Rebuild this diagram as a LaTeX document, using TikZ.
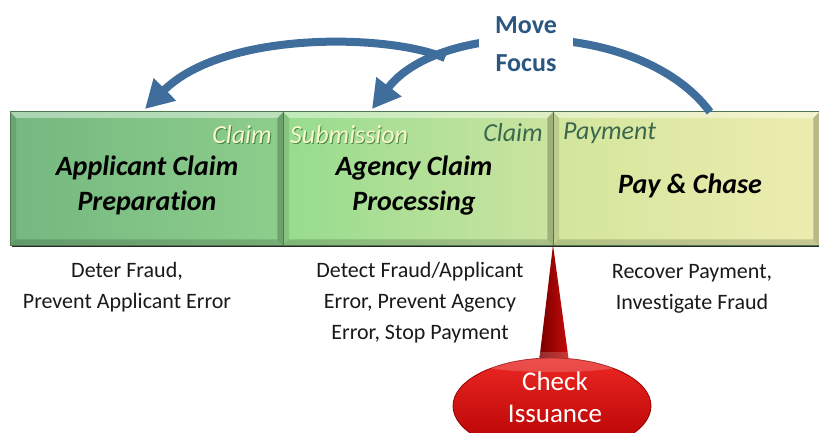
\documentclass[tikz,border=0pt]{standalone}
\usepackage{fontspec}
\setmainfont{Carlito}[RawFeature={-liga}]
\usetikzlibrary{arrows.meta,shapes.geometric,calc}

\definecolor{arcblue}{RGB}{64,110,156}
\definecolor{focusblue}{RGB}{42,86,130}
\definecolor{creamtxt}{RGB}{250,246,205}
\definecolor{labelgreen}{RGB}{58,104,78}
\definecolor{edgegreen}{RGB}{80,120,80}
\definecolor{bodytxt}{RGB}{25,25,25}

% bevelled rim drawn over a shaded stage box
\newcommand\bevelrim[1]{%
  \fill[white,opacity=0.40] (#1.north west) -- (#1.north east)
     -- ($(#1.north east)+(-6,6)$) -- ($(#1.north west)+(6,6)$) -- cycle;
  \fill[black,opacity=0.10] (#1.north west) -- ($(#1.north west)+(6,6)$)
     -- ($(#1.south west)+(6,-6)$) -- (#1.south west) -- cycle;
  \fill[black,opacity=0.16] (#1.south west) -- ($(#1.south west)+(6,-6)$)
     -- ($(#1.south east)+(-6,-6)$) -- (#1.south east) -- cycle;
  \fill[black,opacity=0.22] (#1.north east) -- ($(#1.north east)+(-6,6)$)
     -- ($(#1.south east)+(-6,-6)$) -- (#1.south east) -- cycle;
  \draw[edgegreen,line width=1pt] (#1.north west) rectangle (#1.south east);
}

\tikzset{
  stage/.style={inner sep=0pt, minimum height=133pt, anchor=north west},
  title/.style={font=\fontsize{28}{35}\selectfont\bfseries\itshape,
    text=black, align=center, inner sep=0pt},
  creamlabel/.style={font=\fontsize{26}{30}\selectfont\itshape,
    text=creamtxt, inner sep=0pt},
  creamshadow/.style={font=\fontsize{26}{30}\selectfont\itshape,
    text=black!70!green, opacity=0.55, inner sep=0pt},
  greenlabel/.style={font=\fontsize{26}{30}\selectfont\itshape,
    text=labelgreen, inner sep=0pt},
  note/.style={font=\fontsize{22}{31}\selectfont, text=bodytxt,
    align=center, inner sep=0pt},
  focusarc/.style={arcblue, line width=8pt,
    -{Triangle[length=28pt,width=30pt]}},
}

\begin{document}
\begin{tikzpicture}[x=1pt,y=-1pt]
\useasboundingbox (0,0) rectangle (819,433);

% drop shadow under the stage strip
\fill[black,opacity=0.85] (12,242) rectangle (819,247);

% the three stages
\node[stage, minimum width=273pt,
      left color={rgb,255:red,116;green,184;blue,128},
      right color={rgb,255:red,142;green,206;blue,140}] (prep) at (10,112) {};
\node[stage, minimum width=270pt,
      left color={rgb,255:red,150;green,220;blue,142},
      right color={rgb,255:red,204;green,228;blue,160}] (proc) at (283,112) {};
\node[stage, minimum width=266pt,
      left color={rgb,255:red,210;green,230;blue,156},
      right color={rgb,255:red,238;green,236;blue,176}] (pay) at (553,112) {};
\bevelrim{prep}
\bevelrim{proc}
\bevelrim{pay}

% stage titles
\node[title] (preptitle) at (147,185.5) {Applicant Claim\\Preparation};
\node[title] (proctitle) at (414,185.5) {Agency Claim\\Processing};
\node[title] (paytitle) at (690,186) {Pay \& Chase};

% boundary labels
\node[creamshadow, anchor=east] at (273,136) {Claim};
\node[creamlabel, anchor=east] (claimA) at (272,135) {Claim};
\node[creamshadow, anchor=west] at (291,136) {Submission};
\node[creamlabel, anchor=west] (submission) at (290,135) {Submission};
\node[greenlabel, anchor=east] (claimB) at (543,133) {Claim};
\node[greenlabel, anchor=west] (payment) at (563,133) {Payment};

% notes under the stages
\node[note] (prepnote) at (127,287.5) {Deter Fraud,\\Prevent Applicant Error};
\node[note] (procnote) at (420,302.5) {Detect Fraud/Applicant\\Error, Prevent Agency\\Error, Stop Payment};
\node[note] (paynote) at (692,288.5) {Recover Payment,\\Investigate Fraud};

% check issuance callout
\shade[left color={rgb,255:red,120;green,0;blue,0},
       right color={rgb,255:red,200;green,10;blue,10}]
  (553,245) -- (569,362) -- (539,362) -- cycle;
\node[ellipse, minimum width=198pt, minimum height=96pt, inner sep=0pt,
      top color={rgb,255:red,236;green,40;blue,36},
      bottom color={rgb,255:red,178;green,0;blue,0},
      draw={rgb,255:red,150;green,0;blue,0}, line width=0.8pt] (check) at (552,406) {};
\fill[white,opacity=0.18] (552,362) ellipse [x radius=80pt, y radius=10pt];
\node[text=white, align=center, inner sep=0pt,
      font=\fontsize{27}{32}\selectfont] (checklabel) at (555,397) {Check\\Issuance};

% move focus arcs
\coordinate (payfoot) at (710,112);
\coordinate (subtip) at (372,109);
\coordinate (branch) at (445,58);
\coordinate (preptip) at (145,109);
\draw[focusarc] (payfoot) .. controls (640,18) and (440,20) .. (subtip);
\draw[focusarc] (branch) .. controls (390,34) and (225,30) .. (preptip);

\node[fill=white, minimum width=94pt, minimum height=62pt, inner sep=0pt,
      text=focusblue, align=center,
      font=\fontsize{26}{38}\selectfont\bfseries] (focus) at (526,44) {Move\\Focus};
\end{tikzpicture}
\end{document}
